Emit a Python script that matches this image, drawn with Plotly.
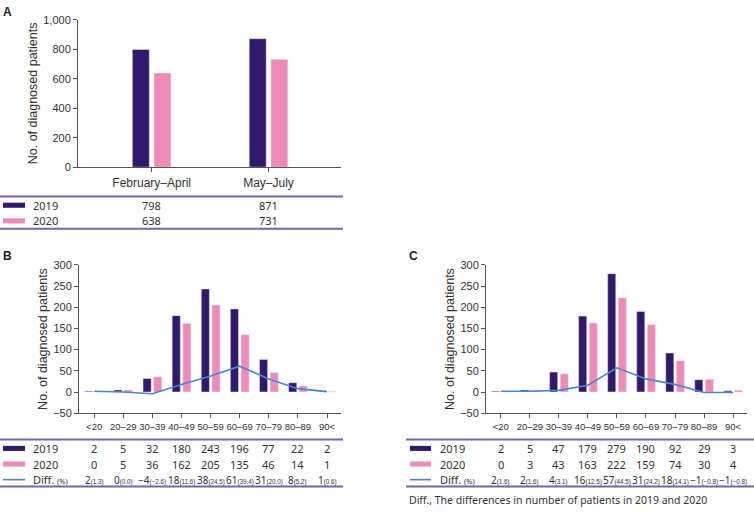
import plotly.graph_objects as go
import html

# ---------------- data ----------------
PERIODS = ["February–April", "May–July"]
A_2019 = [798, 871]
A_2020 = [638, 731]

AGES = ["<20", "20–29", "30–39", "40–49", "50–59", "60–69", "70–79", "80–89", "90<"]
B_2019 = [2, 5, 32, 180, 243, 196, 77, 22, 2]
B_2020 = [0, 5, 36, 162, 205, 135, 46, 14, 1]
B_DIFF = [2, 0, -4, 18, 38, 61, 31, 8, 1]
B_PCT = ["1.3", "0.0", "−2.6", "11.6", "24.5", "39.4", "20.0", "5.2", "0.6"]

C_2019 = [2, 5, 47, 179, 279, 190, 92, 29, 3]
C_2020 = [0, 3, 43, 163, 222, 159, 74, 30, 4]
C_DIFF = [2, 2, 4, 16, 57, 31, 18, -1, -1]
C_PCT = ["1.6", "1.6", "3.1", "12.5", "44.5", "24.2", "14.1", "−0.8", "−0.8"]

A_YTICKS = [0, 200, 400, 600, 800, 1000]
BC_YTICKS = [-50, 0, 50, 100, 150, 200, 250, 300]

YEAR_LABELS = ["2019", "2020"]
Y_TITLE = "No. of diagnosed patients"
FOOTNOTE = "Diff., The differences in number of patients in 2019 and 2020"

# ---------------- style ----------------
W, H = 754, 513
C19 = "#32196b"
C20 = "#ef8bb9"
CLINE = "#4a86d6"
CTAB = "#7068a9"
AXC = "#555555"
TXT = "#333333"
AXFONT = "Liberation Sans, Arial, sans-serif"
TABFONT = "Noto Sans, Liberation Sans, sans-serif"
NARROW = "Liberation Sans Narrow, Liberation Sans, sans-serif"


def px(x):
    return x / W


def py(y):
    return 1 - y / H


def fmt_num(v):
    return ("−" + str(-v)) if v < 0 else str(v)


fig = go.Figure()

# Panel A bars
fig.add_trace(go.Bar(x=PERIODS, y=A_2019, name="2019", marker_color=C19,
                     width=0.145, offset=-0.165, xaxis="x", yaxis="y", showlegend=False))
fig.add_trace(go.Bar(x=PERIODS, y=A_2020, name="2020", marker_color=C20,
                     width=0.145, offset=0.02, xaxis="x", yaxis="y", showlegend=False))

# Panel B
fig.add_trace(go.Bar(x=AGES, y=B_2019, marker_color=C19, width=0.28, offset=-0.32,
                     xaxis="x2", yaxis="y2", showlegend=False))
fig.add_trace(go.Bar(x=AGES, y=B_2020, marker_color=C20, width=0.28, offset=0.045,
                     xaxis="x2", yaxis="y2", showlegend=False))
fig.add_trace(go.Scatter(x=AGES, y=B_DIFF, mode="lines", line=dict(color=CLINE, width=1.6),
                         xaxis="x2", yaxis="y2", showlegend=False))

# Panel C
fig.add_trace(go.Bar(x=AGES, y=C_2019, marker_color=C19, width=0.28, offset=-0.32,
                     xaxis="x3", yaxis="y3", showlegend=False))
fig.add_trace(go.Bar(x=AGES, y=C_2020, marker_color=C20, width=0.28, offset=0.045,
                     xaxis="x3", yaxis="y3", showlegend=False))
fig.add_trace(go.Scatter(x=AGES, y=C_DIFF, mode="lines", line=dict(color=CLINE, width=1.6),
                         xaxis="x3", yaxis="y3", showlegend=False))

common_axis = dict(showline=True, linecolor=AXC, linewidth=1, ticks="outside",
                   ticklen=4, tickcolor=AXC, showgrid=False, zeroline=False,
                   tickfont=dict(family=AXFONT, size=11, color=TXT))
ytitle = dict(text=Y_TITLE, font=dict(family=AXFONT, size=12.5, color=TXT), standoff=2)
age_ticks = dict(tickvals=AGES, ticktext=[html.escape(a) for a in AGES], tickangle=0,
                 tickfont=dict(family=AXFONT, size=9.5, color=TXT))

fig.update_layout(
    width=W, height=H, margin=dict(l=0, r=0, t=0, b=0),
    paper_bgcolor="white", plot_bgcolor="white", barmode="overlay",
    xaxis=dict(common_axis, domain=[px(78), px(341)], anchor="y", type="category",
               range=[-0.63, 1.62], tickfont=dict(family=AXFONT, size=12, color=TXT)),
    yaxis=dict(common_axis, domain=[py(165), py(14)], anchor="x", range=[0, 1000],
               tickvals=A_YTICKS, tickformat=",", title=ytitle),
    xaxis2=dict(common_axis, domain=[px(79), px(341)], anchor="y2", type="category",
                range=[-0.52, 8.48], **age_ticks),
    yaxis2=dict(common_axis, domain=[py(417), py(265)], anchor="x2", range=[-50, 300],
                tickvals=BC_YTICKS, title=ytitle),
    xaxis3=dict(common_axis, domain=[px(486), px(747)], anchor="y3", type="category",
                range=[-0.51, 8.48], **age_ticks),
    yaxis3=dict(common_axis, domain=[py(417), py(265)], anchor="x3", range=[-50, 300],
                tickvals=BC_YTICKS, title=ytitle),
)

shapes = []
ann = []


def hline(x0, x1, y):
    shapes.append(dict(type="line", xref="paper", yref="paper", x0=px(x0), x1=px(x1),
                       y0=py(y), y1=py(y), line=dict(color=CTAB, width=2)))


def swatch(x0, x1, yc, color):
    shapes.append(dict(type="rect", xref="paper", yref="paper", x0=px(x0), x1=px(x1),
                       y0=py(yc + 2.6), y1=py(yc - 2.6), line=dict(width=0), fillcolor=color))


def label(x, y, text, size=11, anchor="left", font=TABFONT, color=TXT, xref="paper"):
    ann.append(dict(x=(px(x) if xref == "paper" else x), y=py(y), xref=xref, yref="paper",
                    text=text, showarrow=False, xanchor=anchor, yanchor="middle",
                    font=dict(family=font, size=size, color=color)))


# Panel letters
label(1, 6, "<b>A</b>", size=12, font=AXFONT, color="#222")
label(1, 256, "<b>B</b>", size=12, font=AXFONT, color="#222")
label(407, 256, "<b>C</b>", size=12, font=AXFONT, color="#222")

# Table A
hline(0, 343, 195)
hline(0, 343, 228)
rowsA = [(204, C19, A_2019), (220, C20, A_2020)]
for (yy, col, vals), yl in zip(rowsA, YEAR_LABELS):
    swatch(3, 25, yy, col)
    label(31, yy, yl)
    for cat, v in zip(PERIODS, vals):
        label(cat, yy, str(v), anchor="center", xref="x")


def age_table(x_left, x_right, sw0, sw1, txt_x, xref, v19, v20, diff, pct):
    hline(x_left, x_right, 444)
    hline(x_left, x_right, 492)
    for yy, col, vals, yl in [(453, C19, v19, YEAR_LABELS[0]), (469, C20, v20, YEAR_LABELS[1])]:
        swatch(sw0, sw1, yy, col)
        label(txt_x, yy, yl)
        for cat, v in zip(AGES, vals):
            label(cat, yy, fmt_num(v), anchor="center", xref=xref)
    shapes.append(dict(type="line", xref="paper", yref="paper", x0=px(sw0), x1=px(sw1),
                       y0=py(485), y1=py(485), line=dict(color=CLINE, width=1.6)))
    label(txt_x, 485, "Diff. <span style='font-size:7.5px'>(%)</span>")
    for cat, d, p in zip(AGES, diff, pct):
        label(cat, 485,
              fmt_num(d) + "<span style='font-size:6.3px;font-family:" + NARROW + "'>(" + p + ")</span>",
              anchor="center", xref=xref, size=10)


age_table(0, 343, 3, 25, 31, "x2", B_2019, B_2020, B_DIFF, B_PCT)
age_table(406, 754, 410, 431, 438, "x3", C_2019, C_2020, C_DIFF, C_PCT)

label(407, 506, FOOTNOTE, size=10.5)

fig.update_layout(shapes=shapes, annotations=ann)
fig.write_html("out.html", config={"displayModeBar": False},
               post_script="document.body.style.margin='0';")
